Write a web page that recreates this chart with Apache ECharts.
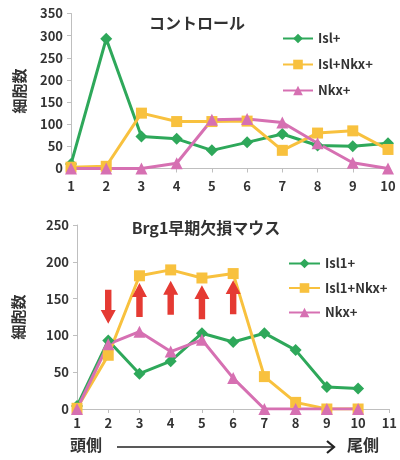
<!DOCTYPE html>
<html>
<head>
<meta charset="utf-8">
<script src="https://cdn.jsdelivr.net/npm/echarts@6/dist/echarts.min.js"></script>
<style>html,body{margin:0;padding:0;background:#fff}#c{width:400px;height:460px}</style>
</head>
<body>
<div id="c"></div>
<script>
// ---- Data ----
const topX = [1, 2, 3, 4, 5, 6, 7, 8, 9, 10];
const topIsl = [10, 293, 72, 67, 41, 59, 78, 52, 50, 57];
const topIslNkx = [3, 5, 125, 106, 106, 107, 41, 80, 85, 43];
const topNkx = [0, 0, 0, 12, 110, 112, 104, 57, 13, 0];
const topNames = ['Isl+', 'Isl+Nkx+', 'Nkx+'];

const botX = [1, 2, 3, 4, 5, 6, 7, 8, 9, 10];
const botIsl1 = [4, 93, 48, 65, 103, 91, 103, 80, 30, 28];
const botIsl1Nkx = [1, 73, 181, 189, 178, 184, 44, 9, 0, 0];
const botNkx = [0, 88, 105, 78, 94, 42, 0, 0, 0, 0];
const botNames = ['Isl1+', 'Isl1+Nkx+', 'Nkx+'];

const arrowX = [2, 3, 4, 5, 6];
const arrowY = [139, 148, 151, 145, 152];
const arrowRot = [180, 0, 0, 0, 0];

const topTitle = 'コントロール';
const botTitle = 'Brg1早期欠損マウス';
const yName = '細胞数';
const headLabel = '頭側';
const tailLabel = '尾側';

// ---- Styles ----
const FONT = '"Noto Sans CJK JP", "Noto Sans", sans-serif';
const GREEN = '#2ea85a', YELLOW = '#f8c13e', PINK = '#d670b2', RED = '#e53a33';
const AX = '#bfbfbf', TXT = '#333';

function pairs(xs, ys) { return xs.map((x, i) => [x, ys[i]]); }

function lineSeries(name, data, color, symbol, size, idx) {
  return {
    type: 'line', name, data, xAxisIndex: idx, yAxisIndex: idx,
    symbol, symbolSize: size, lineStyle: { color, width: 3 },
    itemStyle: { color }, color, animation: false
  };
}

function xAxis(idx, min, max, margin) {
  return {
    type: 'value', gridIndex: idx, min, max, interval: 1,
    axisLine: { lineStyle: { color: AX } },
    axisTick: { show: true, length: 4, lineStyle: { color: AX } },
    splitLine: { show: false },
    axisLabel: { color: TXT, fontWeight: 'bold', fontSize: 13, fontFamily: FONT, margin }
  };
}
function yAxis(idx, max, gap) {
  return {
    type: 'value', gridIndex: idx, min: 0, max, interval: 50,
    name: yName, nameLocation: 'middle', nameGap: gap,
    nameTextStyle: { color: TXT, fontWeight: 'bold', fontSize: 15, fontFamily: FONT },
    axisLine: { show: true, lineStyle: { color: AX } },
    axisTick: { show: true, length: 4, lineStyle: { color: AX } },
    splitLine: { show: false },
    axisLabel: { color: TXT, fontWeight: 'bold', fontSize: 13, fontFamily: FONT, margin: 8 }
  };
}

const arrowPath = 'path://M7,0 L14,13 L10,13 L10,32 L4,32 L4,13 L0,13 Z';

const legendText = { color: TXT, fontWeight: 'bold', fontSize: 13, fontFamily: FONT };

const chart = echarts.init(document.getElementById('c'), null, { renderer: 'canvas' });
chart.setOption({
  animation: false,
  backgroundColor: '#fff',
  textStyle: { fontFamily: FONT },
  title: [
    { text: topTitle, left: 192, top: 10, textAlign: 'center',
      textStyle: { fontSize: 16, fontWeight: 'bold', color: TXT, fontFamily: FONT } },
    { text: botTitle, left: 201, top: 215, textAlign: 'center',
      textStyle: { fontSize: 16, fontWeight: 'bold', color: TXT, fontFamily: FONT } }
  ],
  legend: [
    { data: topNames, orient: 'vertical', left: 282, top: 32, padding: 0, itemWidth: 30, itemHeight: 12,
      itemGap: 13, textStyle: legendText, selectedMode: false },
    { data: botNames, orient: 'vertical', left: 288, top: 257, padding: 0, itemWidth: 31, itemHeight: 12,
      itemGap: 11.5, textStyle: legendText, selectedMode: false }
  ],
  grid: [
    { left: 71, width: 317, top: 13.5, height: 155 },
    { left: 77, width: 315, top: 225, height: 184 }
  ],
  xAxis: [xAxis(0, 1, 10, 11), xAxis(1, 1, 11, 8)],
  yAxis: [yAxis(0, 350, 44), yAxis(1, 250, 51)],
  series: [
    lineSeries(topNames[0], pairs(topX, topIsl), GREEN, 'diamond', 12, 0),
    lineSeries(topNames[1], pairs(topX, topIslNkx), YELLOW, 'rect', 11, 0),
    lineSeries(topNames[2], pairs(topX, topNkx), PINK, 'triangle', 12, 0),
    lineSeries(botNames[0], pairs(botX, botIsl1), GREEN, 'diamond', 12, 1),
    lineSeries(botNames[1], pairs(botX, botIsl1Nkx), YELLOW, 'rect', 11, 1),
    lineSeries(botNames[2], pairs(botX, botNkx), PINK, 'triangle', 12, 1),
    {
      type: 'scatter', name: 'arrows', xAxisIndex: 1, yAxisIndex: 1, z: 5,
      data: arrowX.map((x, i) => ({ value: [x, arrowY[i]], symbolRotate: arrowRot[i] })),
      symbol: arrowPath, symbolSize: [15, 34], itemStyle: { color: RED, opacity: 1 }, silent: true
    }
  ],
  graphic: [
    { type: 'text', left: 70, top: 437, style: { text: headLabel, fill: TXT, fontSize: 16, fontWeight: 'bold', fontFamily: FONT } },
    { type: 'text', left: 347, top: 437, style: { text: tailLabel, fill: TXT, fontSize: 16, fontWeight: 'bold', fontFamily: FONT } },
    { type: 'line', shape: { x1: 117, y1: 447, x2: 334, y2: 447 }, style: { stroke: '#222', lineWidth: 1.5 } },
    { type: 'polyline', shape: { points: [[327, 441], [334, 447], [327, 453]] }, style: { stroke: '#222', lineWidth: 2.2, fill: null } }
  ]
});
</script>
</body>
</html>
